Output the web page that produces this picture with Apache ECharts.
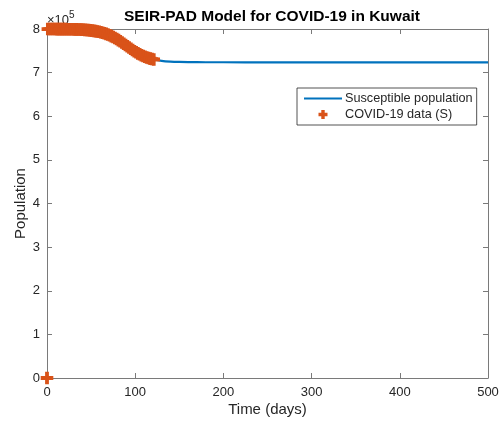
<!DOCTYPE html>
<html>
<head>
<meta charset="utf-8">
<script src="https://cdn.jsdelivr.net/npm/echarts@6/dist/echarts.min.js"></script>
<style>
html,body{margin:0;padding:0;background:#fff;}
#chart{width:502px;height:425px;}
</style>
</head>
<body>
<div id="chart"></div>
<script>
// ---- data ----
var modelDays = [0,10,20,30,40,50,60,70,80,90,100,110,120,130,140,150,160,180,200,250,300,350,400,450,500];
var modelS = [799925,799840,799650,799250,798400,796640,793100,786510,775840,761850,747860,737190,730600,727060,725300,724450,724050,723800,723730,723700,723700,723700,723700,723700,723700];

var dataDays = [0,1,3,5,7,9,11,13,15,17,19,21,23,25,27,29,31,33,35,37,39,41,43,45,47,49,51,53,55,57,59,61,63,65,67,69,71,73,75,77,79,81,83,85,87,89,91,93,95,97,99,101,103,105,107,109,111,113,115,117,119,121];
var dataS = [0,799920,799910,799890,799870,799850,799820,799800,799760,799720,799680,799620,799560,799490,799400,799310,799190,799060,798910,798730,798520,798280,798000,797680,797310,796880,796380,795810,795160,794410,793560,792600,791500,790270,788890,787350,785640,783760,781700,779480,777090,774550,771880,769100,766230,763320,760380,757470,754600,751820,749150,746610,744220,742000,739940,738060,736350,734810,733430,732200,731100,730140];

var xTicks = [0,100,200,300,400,500];
var yTickLabels = ['0','1','2','3','4','5','6','7','8'];

var seriesNames = ['Susceptible population','COVID-19 data (S)'];
var titleText = 'SEIR-PAD Model for COVID-19 in Kuwait';
var xLabel = 'Time (days)';
var yLabel = 'Population';

// ---- chart ----
var plusPath = 'path://M4,0h2v4h4v2h-4v4h-2v-4h-4v-2h4z';
var FONT = '"Liberation Sans", Arial, Helvetica, sans-serif';
var TXT = '#262626';
var AX = '#7a7a7a';

function pairs(xs, ys){ return xs.map(function(x,i){ return [x, ys[i]]; }); }

var chart = echarts.init(document.getElementById('chart'), null, {renderer:'canvas'});
var grid = {left:47, right:14, top:29, bottom:47};

var baseX = {
  type:'value', min:0, max:500, interval:100,
  axisLine:{show:true, onZero:false, lineStyle:{color:AX, width:1}},
  axisTick:{show:true, inside:true, length:5, lineStyle:{color:AX}},
  splitLine:{show:false}
};
var baseY = {
  type:'value', min:0, max:800000, interval:100000,
  axisLine:{show:true, onZero:false, lineStyle:{color:AX, width:1}},
  axisTick:{show:true, inside:true, length:5, lineStyle:{color:AX}},
  splitLine:{show:false}
};

chart.setOption({
  backgroundColor:'#fff',
  animation:false,
  title:{
    text:titleText, left:267, textAlign:'center', top:4,
    textStyle:{fontFamily:FONT, fontSize:15.5, fontWeight:'bold', color:'#000'}
  },
  grid:grid,
  legend:{
    orient:'vertical', left:297, top:88,
    backgroundColor:'#fff',
    borderColor:'#262626', borderWidth:0.8,
    padding:[4,4,4,7],
    itemGap:3, itemWidth:38, itemHeight:7,
    textStyle:{fontFamily:FONT, fontSize:12.7, color:TXT, padding:[0,0,0,-2]},
    data:[
      {name:seriesNames[0], icon:'path://M0,0h40v2.2h-40z'},
      {name:seriesNames[1], icon:plusPath}
    ]
  },
  xAxis:[
    Object.assign({}, baseX, {
      position:'bottom',
      name:xLabel, nameLocation:'middle', nameGap:24, nameMoveOverlap:false,
      nameTextStyle:{fontFamily:FONT, fontSize:15, color:TXT},
      axisLabel:{fontFamily:FONT, fontSize:13, color:TXT, margin:8,
        formatter:function(v){ return xTicks.indexOf(v)>=0 ? String(v) : ''; }}
    }),
    Object.assign({}, baseX, {position:'top', axisLabel:{show:false}})
  ],
  yAxis:[
    Object.assign({}, baseY, {
      position:'left',
      name:yLabel, nameLocation:'middle', nameGap:19, nameMoveOverlap:false,
      nameTextStyle:{fontFamily:FONT, fontSize:15, color:TXT},
      axisLabel:{fontFamily:FONT, fontSize:13, color:TXT, margin:7,
        formatter:function(v){ return yTickLabels[Math.round(v/100000)]; }}
    }),
    Object.assign({}, baseY, {position:'right', axisLabel:{show:false}})
  ],
  graphic:[{
    type:'text', left:47, top:10,
    style:{
      text:'{a|×10}{b|5}',
      rich:{
        a:{fontFamily:FONT, fontSize:13, fill:TXT, verticalAlign:'bottom', padding:[4,0,0,0]},
        b:{fontFamily:FONT, fontSize:10, fill:TXT, verticalAlign:'top'}
      }
    }
  }],
  series:[
    {
      name:seriesNames[0], type:'line', xAxisIndex:0, yAxisIndex:0,
      data:pairs(modelDays, modelS), smooth:0.3, showSymbol:false,
      lineStyle:{color:'#0072BD', width:2.2}, itemStyle:{color:'#0072BD'}, z:2
    },
    {
      name:seriesNames[1], type:'scatter', xAxisIndex:0, yAxisIndex:0,
      data:pairs(dataDays, dataS), symbol:plusPath, symbolSize:11,
      itemStyle:{color:'#D95319', borderColor:'#D95319', borderWidth:1.6, opacity:1}, z:3
    }
  ]
});
</script>
</body>
</html>
